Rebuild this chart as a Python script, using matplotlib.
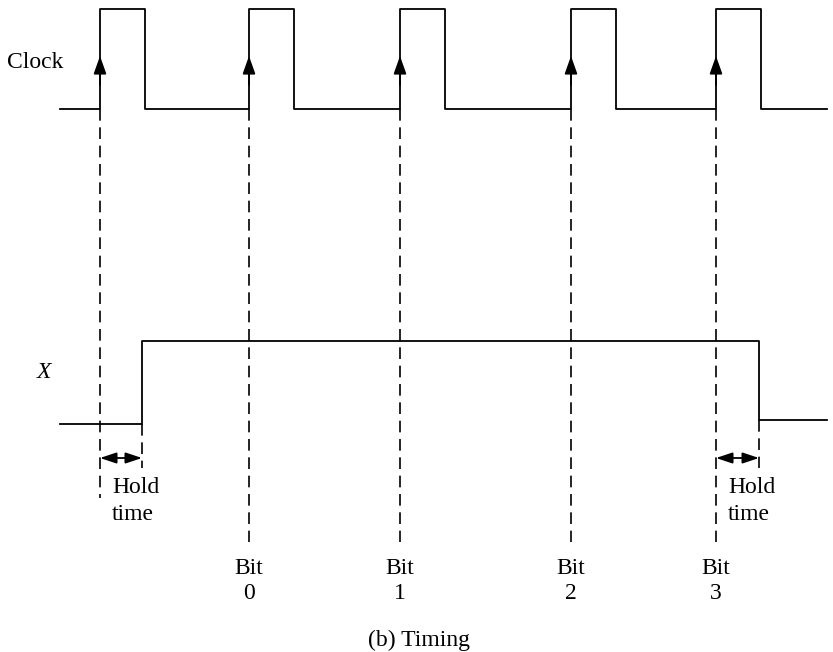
import matplotlib.pyplot as plt
import numpy as np

# --- Timing data (horizontal positions in drawing units) ---
clock_rise = [100, 249, 400, 571, 716]
clock_fall = [145, 294, 445, 616, 761]
x_rise = 142
x_fall = 759
t_start, t_end = 60, 827

clock_low, clock_high = 109, 9
x_low, x_high, x_low_after = 424, 341, 420

bit_labels = ['0', '1', '2', '3']
bit_positions = clock_rise[1:]

plt.rcParams['font.family'] = ['Liberation Serif', 'DejaVu Serif']

fig = plt.figure(figsize=(8.33, 6.52), dpi=100)
ax = fig.add_axes([0, 0, 1, 1])
ax.set_xlim(0, 833)
ax.set_ylim(652, 0)
ax.axis('off')

lw = 1.3
# Clock waveform
cx, cy = [t_start], [clock_low]
for r, f in zip(clock_rise, clock_fall):
    cx += [r, r, f, f]
    cy += [clock_low, clock_high, clock_high, clock_low]
cx.append(t_end)
cy.append(clock_low)
ax.plot(cx, cy, color='black', lw=lw)

# arrows on rising edges
for r in clock_rise:
    ax.annotate('', xy=(r, 56), xytext=(r, 85),
                arrowprops=dict(arrowstyle='-|>,head_length=0.9,head_width=0.32',
                                color='black', lw=lw,
                                mutation_scale=12, shrinkA=0, shrinkB=0))

# X waveform
ax.plot([t_start, x_rise, x_rise, x_fall, x_fall, t_end],
        [x_low, x_low, x_high, x_high, x_low_after, x_low_after],
        color='black', lw=lw)

dash = dict(color='black', lw=1.2, linestyle=(0, (7, 4)))
# dashed reference lines
ax.plot([clock_rise[0]] * 2, [clock_low, 498], **dash)
ax.plot([x_rise] * 2, [x_low, 468], **dash)
for b in bit_positions:
    ax.plot([b] * 2, [clock_low, 542], **dash)
ax.plot([x_fall] * 2, [x_low_after, 468], **dash)

# hold time arrows
for a, b in [(clock_rise[0], x_rise), (clock_rise[-1], x_fall)]:
    ax.annotate('', xy=(a, 458), xytext=(b, 458),
                arrowprops=dict(arrowstyle='<|-|>,head_length=0.9,head_width=0.3',
                                color='black', lw=1.3,
                                mutation_scale=11, shrinkA=0, shrinkB=0))

fs = 17
ax.text(7, 63, 'Clock', fontsize=fs, ha='left', va='center')
ax.text(37, 373, 'X', fontsize=fs, ha='left', va='center', style='italic')

ax.text(112, 501, 'Hold\ntime', fontsize=fs, ha='left', va='center',
        linespacing=1.35)
ax.text(728, 501, 'Hold\ntime', fontsize=fs, ha='left', va='center',
        linespacing=1.35)

for b, lab in zip(bit_positions, bit_labels):
    ax.text(b, 581, 'Bit\n' + lab, fontsize=fs, ha='center', va='center',
            linespacing=1.2)

ax.text(419, 640, '(b) Timing', fontsize=fs, ha='center', va='center')

plt.savefig('out.png', dpi=100)
